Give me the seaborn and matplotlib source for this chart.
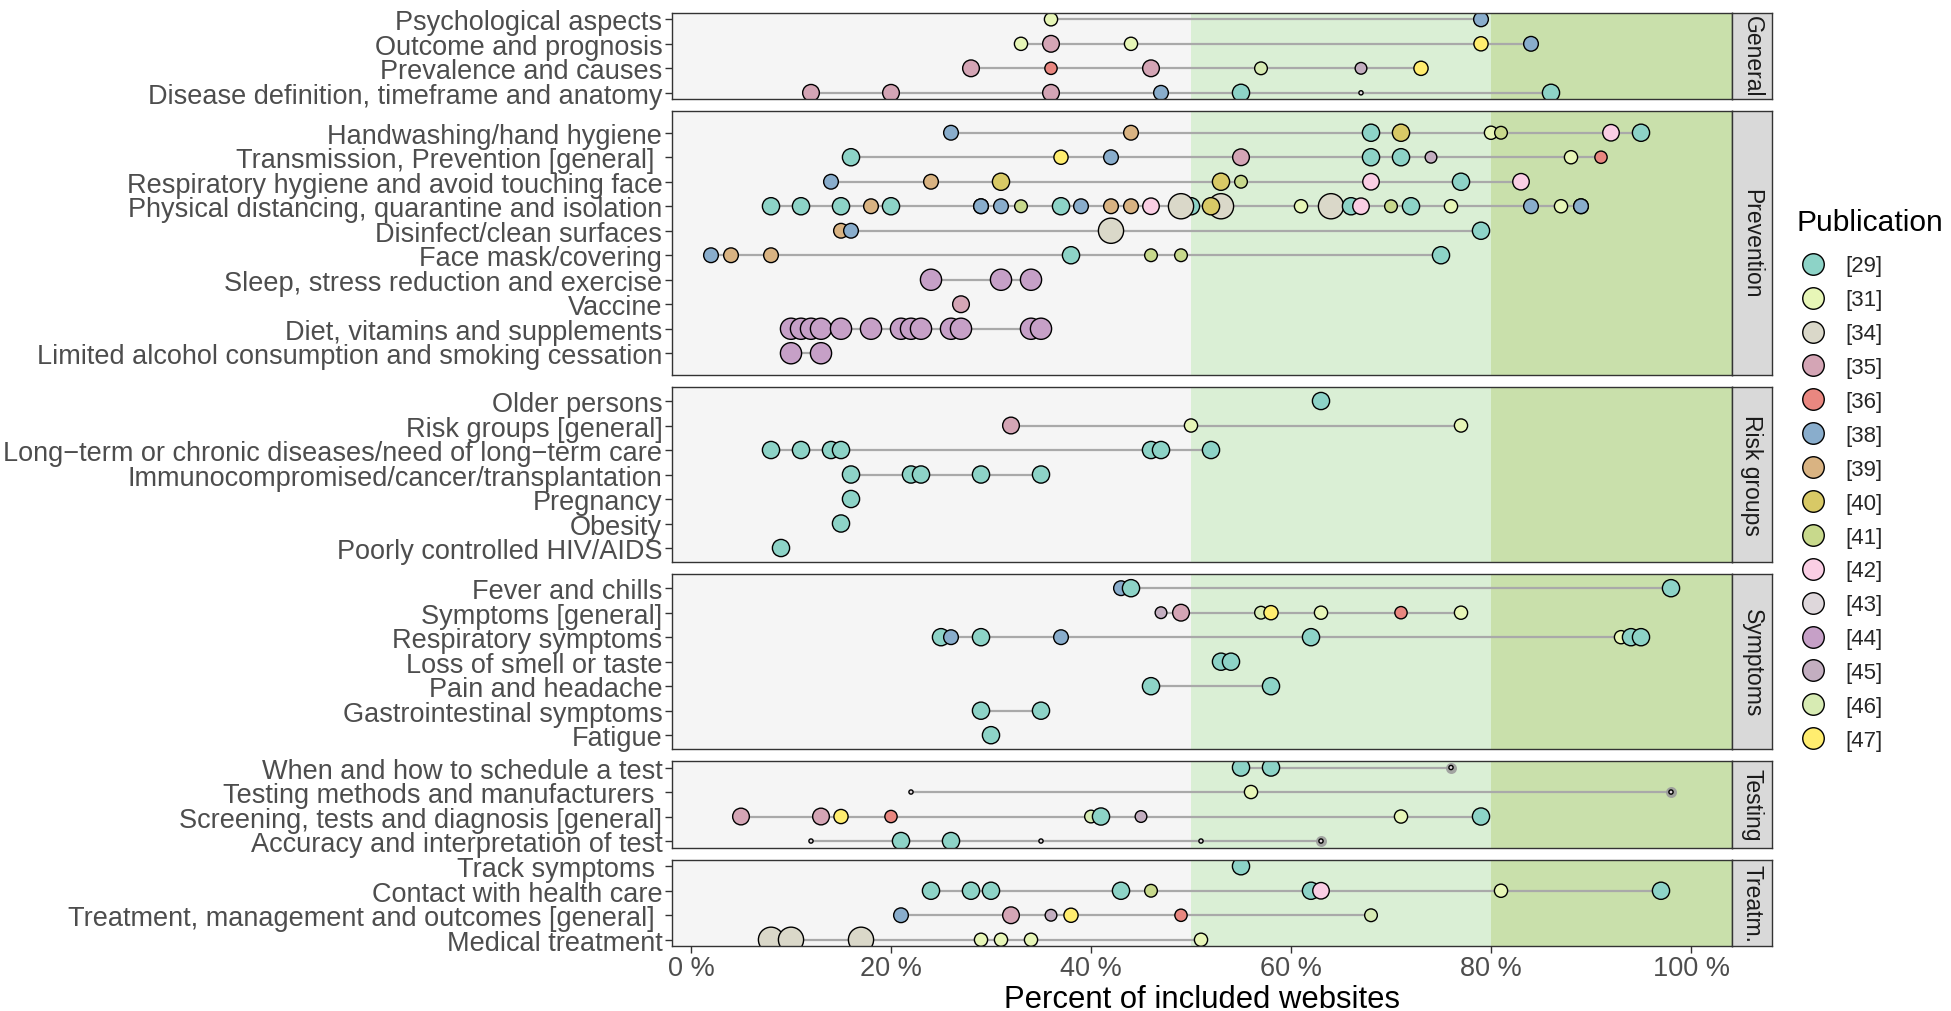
import numpy as np
import pandas as pd
import matplotlib
matplotlib.use("Agg")
import matplotlib.pyplot as plt
from matplotlib.colors import to_rgb, to_hex
from matplotlib.lines import Line2D
import seaborn as sns

# ---------------- data ----------------
publications = ["[29]", "[31]", "[34]", "[35]", "[36]", "[38]", "[39]", "[40]",
                "[41]", "[42]", "[43]", "[44]", "[45]", "[46]", "[47]"]
facets = ["General", "Prevention", "Risk groups", "Symptoms", "Testing", "Treatm."]
x_ticks = [0, 20, 40, 60, 80, 100]
x_tick_labels = ["0 %", "20 %", "40 %", "60 %", "80 %", "100 %"]

general = [
    ("Psychological aspects", [31, 38], [36, 79]),
    ("Outcome and prognosis", [31, 35, 31, 47, 38], [33, 36, 44, 79, 84]),
    ("Prevalence and causes", [35, 36, 35, 46, 45, 47], [28, 36, 46, 57, 67, 73]),
    ("Disease definition, timeframe and anatomy", [35, 35, 35, 38, 29, 43, 29],
     [12, 20, 36, 47, 55, 67, 86]),
]
prevention = [
    ("Handwashing/hand hygiene", [38, 39, 29, 40, 31, 41, 42, 29],
     [26, 44, 68, 71, 80, 81, 92, 95]),
    ("Transmission, Prevention [general] ", [29, 47, 38, 35, 29, 29, 45, 31, 36],
     [16, 37, 42, 55, 68, 71, 74, 88, 91]),
    ("Respiratory hygiene and avoid touching face", [38, 39, 40, 40, 41, 42, 29, 42],
     [14, 24, 31, 53, 55, 68, 77, 83]),
    ("Physical distancing, quarantine and isolation",
     [29, 29, 29, 39, 29, 38, 38, 38, 41, 29, 38, 39, 39, 42, 29, 34, 34, 40, 31,
      34, 29, 42, 41, 29, 31, 38, 31, 38, 38],
     [8, 11, 15, 18, 20, 29, 29, 31, 33, 37, 39, 42, 44, 46, 50, 49, 53, 52, 61,
      64, 66, 67, 70, 72, 76, 84, 87, 89, 89]),
    ("Disinfect/clean surfaces", [39, 38, 34, 29], [15, 16, 42, 79]),
    ("Face mask/covering", [38, 39, 39, 29, 41, 41, 29], [2, 4, 8, 38, 46, 49, 75]),
    ("Sleep, stress reduction and exercise", [44, 44, 44], [24, 31, 34]),
    ("Vaccine", [35], [27]),
    ("Diet, vitamins and supplements",
     [44, 44, 44, 44, 44, 44, 44, 44, 44, 44, 44, 44, 44],
     [10, 11, 12, 13, 15, 18, 21, 22, 23, 26, 27, 34, 35]),
    ("Limited alcohol consumption and smoking cessation", [44, 44], [10, 13]),
]
risk_groups = [
    ("Older persons", [29], [63]),
    ("Risk groups [general]", [35, 31, 31], [32, 50, 77]),
    ("Long\u2212term or chronic diseases/need of long\u2212term care",
     [29, 29, 29, 29, 29, 29, 29], [8, 11, 14, 15, 46, 47, 52]),
    ("Immunocompromised/cancer/transplantation", [29, 29, 29, 29, 29],
     [16, 22, 23, 29, 35]),
    ("Pregnancy", [29], [16]),
    ("Obesity", [29], [15]),
    ("Poorly controlled HIV/AIDS", [29], [9]),
]
symptoms = [
    ("Fever and chills", [38, 29, 29], [43, 44, 98]),
    ("Symptoms [general]", [45, 35, 46, 47, 31, 36, 31], [47, 49, 57, 58, 63, 71, 77]),
    ("Respiratory symptoms", [29, 38, 29, 38, 29, 31, 29, 29],
     [25, 26, 29, 37, 62, 93, 94, 95]),
    ("Loss of smell or taste", [29, 29], [53, 54]),
    ("Pain and headache", [29, 29], [46, 58]),
    ("Gastrointestinal symptoms", [29, 29], [29, 35]),
    ("Fatigue", [29], [30]),
]
testing = [
    ("When and how to schedule a test", [29, 29, 43], [55, 58, 76]),
    ("Testing methods and manufacturers ", [43, 31, 43], [22, 56, 98]),
    ("Screening, tests and diagnosis [general]", [35, 35, 47, 36, 46, 29, 45, 31, 29],
     [5, 13, 15, 20, 40, 41, 45, 71, 79]),
    ("Accuracy and interpretation of test", [43, 29, 29, 43, 43, 43],
     [12, 21, 26, 35, 51, 63]),
]
treatment = [
    ("Track symptoms ", [29], [55]),
    ("Contact with health care", [29, 29, 29, 29, 41, 29, 42, 31, 29],
     [24, 28, 30, 43, 46, 62, 63, 81, 97]),
    ("Treatment, management and outcomes [general] ", [38, 35, 45, 47, 36, 46],
     [21, 32, 36, 38, 49, 68]),
    ("Medical treatment", [34, 34, 34, 31, 31, 31, 31], [8, 10, 17, 29, 31, 34, 51]),
]
# points that carry a grey highlight ring in the original
highlighted = [("When and how to schedule a test", 76),
               ("Testing methods and manufacturers ", 98),
               ("Accuracy and interpretation of test", 63)]

blocks = [general, prevention, risk_groups, symptoms, testing, treatment]

rows = []
for g, block in zip(facets, blocks):
    for i, (topic, pubs, vals) in enumerate(block):
        for p, v in zip(pubs, vals):
            rows.append(dict(facet=g, topic=topic, row=i, pub=f"[{p}]", pct=v))
df = pd.DataFrame(rows)
hl = pd.DataFrame(highlighted, columns=["topic", "pct"]).merge(
    df[["facet", "topic", "row"]].drop_duplicates(), on="topic")

# ---------------- style ----------------
set3 = ["#8DD3C7", "#FFFFB3", "#BEBADA", "#FB8072", "#80B1D3", "#FDB462",
        "#B3DE69", "#FCCDE5", "#D9D9D9", "#BC80BD", "#CCEBC5", "#FFED6F"]
base = np.array([to_rgb(c) for c in set3])
pos = np.linspace(0, len(base) - 1, len(publications))
palette = {p: to_hex([np.interp(q, np.arange(len(base)), base[:, k]) for k in range(3)])
           for p, q in zip(publications, pos)}

marker_px = {"[29]": 18.5, "[31]": 14.5, "[34]": 26.5, "[35]": 18, "[36]": 13.6,
             "[38]": 16, "[39]": 16, "[40]": 18.5, "[41]": 14, "[42]": 17.8,
             "[43]": 5.5, "[44]": 22.5, "[45]": 13, "[46]": 14, "[47]": 15.5}
DPI = 100
PT = 72.0 / DPI
areas = {k: ((v - 1.3) * PT) ** 2 for k, v in marker_px.items()}

W, H = 1951, 1012
sns.set_theme(style="white")
plt.rcParams['font.family'] = ['Liberation Sans', 'DejaVu Sans']

fig = plt.figure(figsize=(W / DPI, H / DPI), dpi=DPI)
fig.patch.set_facecolor("white")

U, GAP, TOP = 24.5, 12.0, 13.7
LEFT, RIGHT, STRIPW = 672, 1732, 40
margins = [0.27, 0.87, 0.59, 0.56, 0.27, 0.27]
XMIN, XMAX = -1.9, 104.1
BORDER = "#333333"

y = TOP
for gi, (g, block) in enumerate(zip(facets, blocks)):
    n = len(block)
    m = margins[gi]
    h = (n - 1 + 2 * m) * U
    rect = [LEFT / W, 1 - (y + h) / H, (RIGHT - LEFT) / W, h / H]
    ax = fig.add_axes(rect)
    sub = df[df.facet == g]

    ax.axvspan(XMIN, 50, color="#f5f5f5", lw=0, zorder=0)
    ax.axvspan(50, 80, color="#daefd5", lw=0, zorder=0)
    ax.axvspan(80, XMAX, color="#c9e0ab", lw=0, zorder=0)

    rng = sub.groupby("row").pct.agg(["min", "max"]).reset_index()
    ax.hlines(rng["row"], rng["min"], rng["max"], color="#a9a9a9", lw=1.6, zorder=1)

    hsub = hl[hl.facet == g]
    if len(hsub):
        sns.scatterplot(data=hsub, x="pct", y="row", color="#9c9c9c", s=(11 * PT) ** 2,
                        linewidth=0, alpha=0.9, legend=False, ax=ax, zorder=2)

    sns.scatterplot(data=sub, x="pct", y="row", hue="pub", size="pub",
                    palette=palette, sizes=areas, edgecolor="black", linewidth=1.0,
                    legend=False, ax=ax, zorder=3)

    ax.set_xlim(XMIN, XMAX)
    ax.set_ylim(n - 1 + m, -m)
    ax.set_yticks(range(n))
    ax.set_yticklabels([t for t, _, _ in block], fontsize=19.5, color="#4d4d4d")
    ax.set_xticks(x_ticks)
    ax.set_xlabel("")
    ax.set_ylabel("")
    ax.tick_params(axis="y", left=True, length=5, width=1.0, color=BORDER, pad=2)
    if gi == len(facets) - 1:
        ax.set_xticklabels(x_tick_labels, fontsize=19.5, color="#4d4d4d")
        ax.tick_params(axis="x", bottom=True, length=5, width=1.0, color=BORDER, pad=1)
    else:
        ax.tick_params(axis="x", bottom=False, labelbottom=False)
    for sp in ax.spines.values():
        sp.set_visible(True)
        sp.set_color(BORDER)
        sp.set_linewidth(1.0)
        sp.set_zorder(5)

    sax = fig.add_axes([RIGHT / W, 1 - (y + h) / H, STRIPW / W, h / H])
    sax.set_facecolor("#d9d9d9")
    sax.set_xticks([])
    sax.set_yticks([])
    for sp in sax.spines.values():
        sp.set_visible(True)
        sp.set_color(BORDER)
        sp.set_linewidth(1.0)
    sax.text(0.5, 0.5, g, rotation=270, ha="center", va="center",
             fontsize=16.5, color="#1a1a1a", transform=sax.transAxes)

    y += h + GAP

fig.text((LEFT + RIGHT) / 2 / W, 1 - 1000 / H, "Percent of included websites",
         ha="center", va="center", fontsize=22.3, color="black")

# legend
fig.text(1796 / W, 1 - 223 / H, "Publication", ha="left", va="center",
         fontsize=21.6, color="black")
handles = [Line2D([0], [0], marker="o", linestyle="", markersize=15.5,
                  markerfacecolor=palette[p], markeredgecolor="black",
                  markeredgewidth=1.0) for p in publications]
fig.legend(handles, publications, loc="upper left",
           bbox_to_anchor=(1802 / W, 1 - 256.5 / H), frameon=False, fontsize=16,
           labelspacing=0.58, handlelength=1.0, handletextpad=0.94,
           borderaxespad=0, borderpad=0)

fig.savefig("out.png", dpi=DPI, facecolor="white")
